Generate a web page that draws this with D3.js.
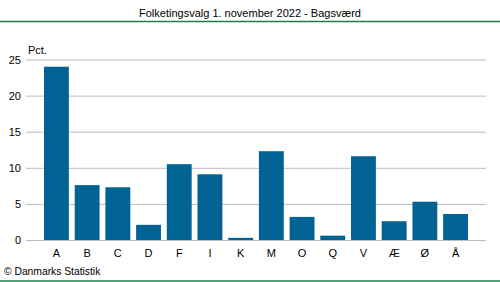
<!DOCTYPE html>
<html>
<head>
<meta charset="utf-8">
<script src="https://cdn.jsdelivr.net/npm/d3@7"></script>
<style>
  html, body { margin: 0; padding: 0; background: #fff; }
  svg { display: block; font-family: "Liberation Sans", Arial, sans-serif; }
</style>
</head>
<body>
<svg id="chart" width="500" height="282"></svg>
<script>
// Party letters and vote share (pct.)
const parties = ["A", "B", "C", "D", "F", "I", "K", "M", "O", "Q", "V", "Æ", "Ø", "Å"];
const shares = [24.0, 7.6, 7.3, 2.1, 10.5, 9.1, 0.3, 12.3, 3.2, 0.6, 11.6, 2.6, 5.3, 3.6];
const yTicks = [0, 5, 10, 15, 20, 25];

const title = "Folketingsvalg 1. november 2022 - Bagsværd";
const unitLabel = "Pct.";
const credit = "© Danmarks Statistik";

const svg = d3.select("#chart");
const W = 500, H = 282;
const gridLeft = 26, gridRight = 486;

const x = d3.scaleBand().domain(parties).range([44, 468]).paddingInner(0.19).paddingOuter(0);
const y = d3.scaleLinear().domain([0, 25]).range([240, 59.5]);

// Header and footer rules
svg.append("line").attr("x1", 0).attr("x2", W).attr("y1", 21.5).attr("y2", 21.5)
  .attr("stroke", "#1b7f45").attr("stroke-width", 1.3);
svg.append("line").attr("x1", 0).attr("x2", W).attr("y1", 281).attr("y2", 281)
  .attr("stroke", "#1b7f45").attr("stroke-width", 1.5);

svg.append("text").attr("x", 250).attr("y", 17).attr("text-anchor", "middle")
  .attr("font-size", 11).attr("fill", "#000").text(title);

// Horizontal gridlines + y labels
const yAxis = d3.axisLeft(y).tickValues(yTicks).tickSize(-(gridRight - gridLeft)).tickPadding(5);
const gy = svg.append("g").attr("transform", `translate(${gridLeft},0)`).call(yAxis);
gy.select(".domain").remove();
gy.selectAll(".tick line").attr("stroke", "#bcbcc8").attr("stroke-width", 1);
gy.selectAll(".tick text").attr("font-size", 11).attr("fill", "#000")
  .attr("font-family", "'Liberation Sans', Arial, sans-serif");

svg.append("text").attr("x", 28).attr("y", 54).attr("font-size", 11).attr("fill", "#000").text(unitLabel);

// Bars
svg.append("g").selectAll("rect").data(parties).join("rect")
  .attr("x", d => x(d))
  .attr("width", x.bandwidth())
  .attr("y", (d, i) => y(shares[i]))
  .attr("height", (d, i) => y(0) - y(shares[i]))
  .attr("fill", "#006394");

// Category axis labels
const xAxis = d3.axisBottom(x).tickSize(0).tickPadding(9);
const gx = svg.append("g").attr("transform", "translate(0,240)").call(xAxis);
gx.select(".domain").remove();
gx.selectAll(".tick text").attr("font-size", 11).attr("fill", "#000")
  .attr("font-family", "'Liberation Sans', Arial, sans-serif");

svg.append("text").attr("x", 4).attr("y", 275).attr("font-size", 10.3).attr("fill", "#000").text(credit);
</script>
</body>
</html>
